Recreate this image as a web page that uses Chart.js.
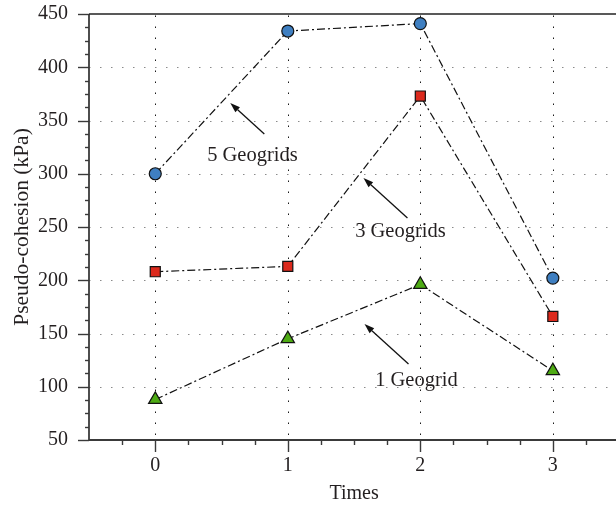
<!DOCTYPE html>
<html>
<head>
<meta charset="utf-8">
<title>Pseudo-cohesion</title>
<script src="https://cdn.jsdelivr.net/npm/chart.js@4/dist/chart.umd.min.js"></script>
<style>
  html, body { margin: 0; padding: 0; background: #fff; overflow: hidden; }
</style>
</head>
<body>
<canvas id="cohesionChart" width="628" height="507"></canvas>
<script>
// Pseudo-cohesion (kPa) after each repetition, one series per geogrid count
const times = [0, 1, 2, 3];
const geogrids5 = [300, 434, 441, 202];
const geogrids3 = [208, 213, 373, 166];
const geogrids1 = [88, 145, 196, 115];

const xTicks = [0, 1, 2, 3];
const yTicks = [50, 100, 150, 200, 250, 300, 350, 400, 450];

// Callout labels: text spot and arrow (from -> tip), in axis units
const noteTexts = ["5 Geogrids", "3 Geogrids", "1 Geogrid"];
const noteTextAt = [[0.733, 312.3], [1.85, 240.9], [1.971, 101.0]];
const noteArrowFrom = [[0.823, 337.3], [1.903, 258.5], [1.911, 121.4]];
const noteArrowTo = [[0.566, 366.4], [1.571, 296.0], [1.579, 158.9]];

const serif = "'Liberation Serif', 'Times New Roman', serif";
const inkColor = "#231f20";

function toPoints(values) {
  return values.map((v, i) => ({ x: times[i], y: v }));
}

function line(ctx, x1, y1, x2, y2) {
  ctx.beginPath();
  ctx.moveTo(x1, y1);
  ctx.lineTo(x2, y2);
  ctx.stroke();
}

// dotted grid, outward ticks (major + minor) and the box lines
const framePlugin = {
  id: "frame",
  beforeDatasetsDraw(chart) {
    const { ctx, chartArea: a, scales } = chart;
    const x = scales.x, y = scales.y;
    ctx.save();

    ctx.lineWidth = 1;
    ctx.setLineDash([1.5, 9.5]);
    ctx.strokeStyle = "#8a8a8a";
    yTicks.slice(1, -1).forEach((v) => {
      const py = Math.round(y.getPixelForValue(v)) + 0.5;
      line(ctx, a.left, py, a.right, py);
    });
    ctx.strokeStyle = "#1a1a1a";
    xTicks.forEach((v) => {
      const px = Math.round(x.getPixelForValue(v)) + 0.5;
      line(ctx, px, a.bottom - 5, px, a.top);
    });
    ctx.setLineDash([]);

    ctx.strokeStyle = "#3a3a3a";
    ctx.lineWidth = 1.4;
    for (let v = 50; v <= 450; v += 12.5) {
      const py = Math.round(y.getPixelForValue(v)) + 0.5;
      const len = v % 50 === 0 ? 11 : 4;
      line(ctx, a.left - len, py, a.left, py);
    }
    for (let v = -0.25; v < 3.5; v += 0.25) {
      const px = Math.round(x.getPixelForValue(v)) + 0.5;
      const len = Number.isInteger(v) ? 12 : 5;
      line(ctx, px, a.bottom, px, a.bottom + len);
    }

    ctx.lineWidth = 1.8;
    ctx.strokeStyle = "#3a3a3a";
    line(ctx, a.left, a.top, a.left, a.bottom + 1);
    line(ctx, a.left, a.bottom, a.right, a.bottom);
    ctx.strokeStyle = "#222";
    ctx.lineWidth = 1.5;
    line(ctx, a.left, a.top, a.right, a.top);
    line(ctx, a.right, a.top, a.right, a.bottom);
    ctx.restore();
  },
  afterDatasetsDraw(chart) {
    const { ctx, scales } = chart;
    const x = scales.x, y = scales.y;
    ctx.save();
    ctx.fillStyle = inkColor;
    ctx.strokeStyle = "#111";
    ctx.lineWidth = 1.3;
    ctx.font = "20.5px " + serif;
    ctx.textAlign = "center";
    ctx.textBaseline = "alphabetic";
    noteTexts.forEach((t, i) => {
      ctx.fillText(t, x.getPixelForValue(noteTextAt[i][0]), y.getPixelForValue(noteTextAt[i][1]));

      const x1 = x.getPixelForValue(noteArrowFrom[i][0]), y1 = y.getPixelForValue(noteArrowFrom[i][1]);
      const x2 = x.getPixelForValue(noteArrowTo[i][0]), y2 = y.getPixelForValue(noteArrowTo[i][1]);
      const ang = Math.atan2(y2 - y1, x2 - x1);
      const head = 10, half = 3.4;
      const bx = x2 - head * Math.cos(ang), by = y2 - head * Math.sin(ang);
      line(ctx, x1, y1, bx, by);
      ctx.beginPath();
      ctx.moveTo(x2, y2);
      ctx.lineTo(bx + half * Math.sin(ang), by - half * Math.cos(ang));
      ctx.lineTo(bx - half * Math.sin(ang), by + half * Math.cos(ang));
      ctx.closePath();
      ctx.fillStyle = "#111";
      ctx.fill();
      ctx.fillStyle = inkColor;
    });
    ctx.restore();
  },
};

const seriesStyle = {
  borderColor: "#111",
  borderWidth: 1.2,
  borderDash: [8, 3, 2, 3],
  pointBorderColor: "#111",
  pointBorderWidth: 1.2,
  tension: 0,
  fill: false,
  clip: false,
};

const ctx = document.getElementById("cohesionChart");
const cohesionChart = new Chart(ctx, {
  type: "line",
  data: {
    datasets: [
      { ...seriesStyle, label: "5 Geogrids", data: toPoints(geogrids5), pointStyle: "circle", pointRadius: 6, pointBackgroundColor: "#3f7fc1" },
      { ...seriesStyle, label: "3 Geogrids", data: toPoints(geogrids3), pointStyle: "rect", pointRadius: 7.1, pointBackgroundColor: "#dc2a1d" },
      { ...seriesStyle, label: "1 Geogrid", data: toPoints(geogrids1), pointStyle: "triangle", pointRadius: 7.7, pointBackgroundColor: "#4eab14" },
    ],
  },
  options: {
    responsive: false,
    animation: false,
    layout: { padding: { top: 14, right: 1.6, left: 0, bottom: 0 } },
    plugins: { legend: { display: false }, tooltip: { enabled: false } },
    scales: {
      x: {
        type: "linear",
        min: -0.5,
        max: 3.5,
        afterBuildTicks: (scale) => { scale.ticks = xTicks.map((v) => ({ value: v })); },
        afterFit: (scale) => {
          scale.height = 67;
          scale.paddingLeft = 0;
          scale.paddingRight = 0;
        },
        grid: { display: false, drawTicks: false },
        border: { display: false },
        ticks: { padding: 14, color: inkColor, font: { family: serif, size: 20 }, maxRotation: 0 },
        title: { display: true, text: "Times", color: inkColor, font: { family: serif, size: 20 }, padding: { top: 0, bottom: 1 } },
      },
      y: {
        min: 50,
        max: 450,
        afterBuildTicks: (scale) => { scale.ticks = yTicks.map((v) => ({ value: v })); },
        afterFit: (scale) => {
          scale.width = 89;
          scale.paddingTop = 0;
          scale.paddingBottom = 0;
        },
        grid: { display: false, drawTicks: false },
        border: { display: false },
        ticks: { padding: 21, color: inkColor, font: { family: serif, size: 20 } },
        title: { display: true, text: "Pseudo-cohesion (kPa)", color: inkColor, font: { family: serif, size: 21.5 }, padding: { top: 9, bottom: 0 } },
      },
    },
  },
  plugins: [framePlugin],
});
</script>
</body>
</html>
